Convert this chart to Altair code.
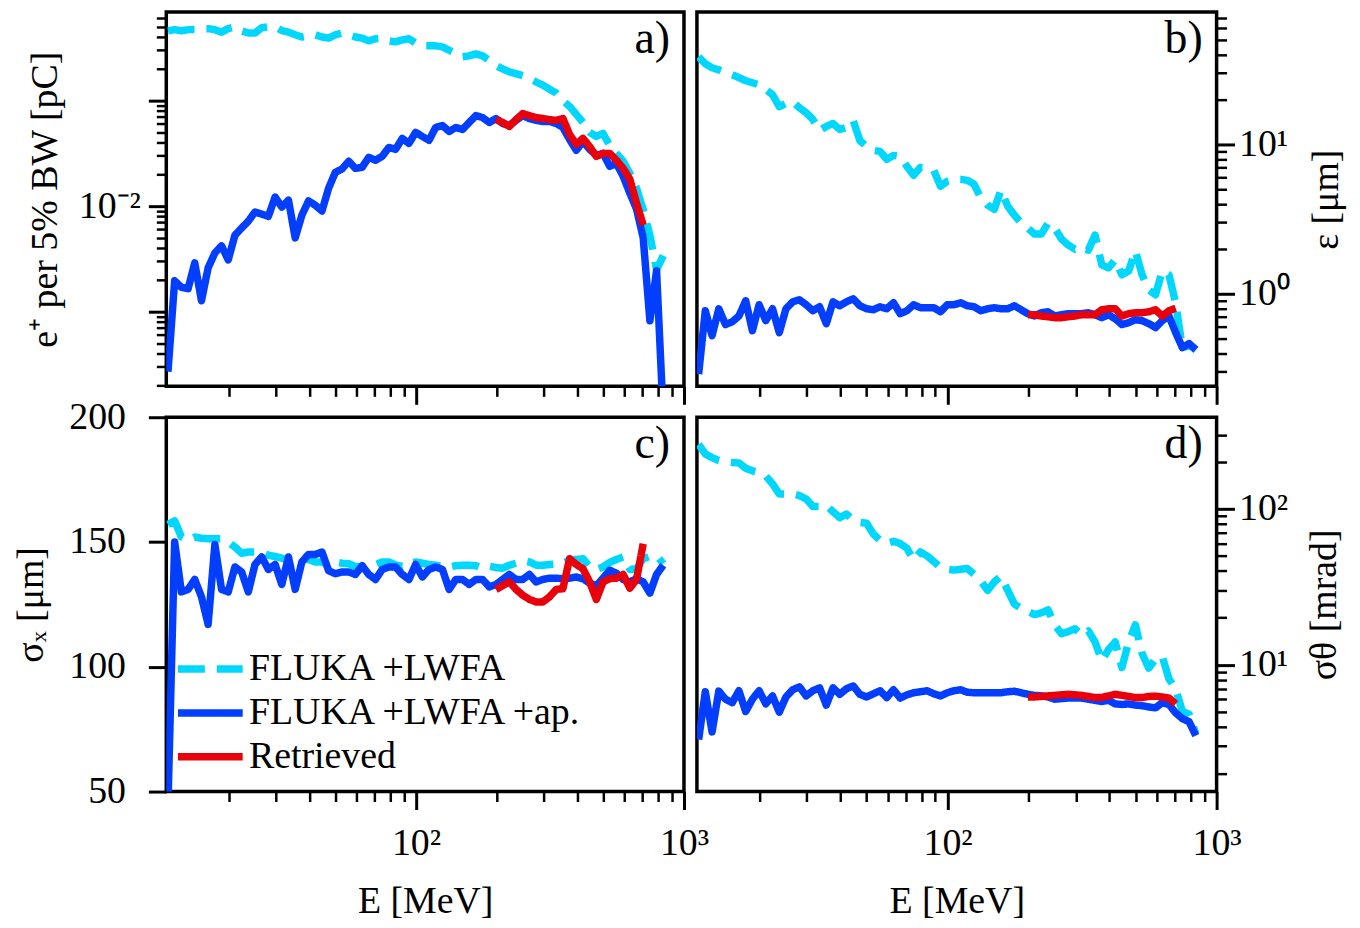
import altair as alt
import pandas as pd

# ---------------- data ----------------
E = [11.87, 12.57, 13.32, 14.11, 14.94, 15.83, 16.76, 17.76, 18.81, 19.92,
     21.10, 22.35, 23.67, 25.07, 26.56, 28.13, 29.80, 31.56, 33.43, 35.41,
     37.50, 39.72, 42.08, 44.57, 47.20, 50.00, 52.96, 56.09, 59.41, 62.93,
     66.65, 70.60, 74.78, 79.20, 83.89, 88.86, 94.12, 99.69, 105.6, 111.8,
     118.4, 125.5, 132.9, 140.8, 149.1, 157.9, 167.3, 177.2, 187.7, 198.8,
     210.5, 223.0, 236.2, 250.2, 265.0, 280.7, 297.3, 314.9, 333.5, 353.3,
     374.2, 396.3, 419.8, 444.6, 470.9, 498.8, 528.4, 559.6, 592.8, 627.9,
     665.0, 704.4, 746.1, 790.2, 837.0]
E_RET = E[49:72]

A_CYAN = [0.457, 0.47, 0.457, 0.47, 0.47, 0.48, 0.48, 0.47, 0.445, 0.48,
          0.50, 0.457, 0.437, 0.437, 0.49, 0.50, 0.50, 0.46, 0.445, 0.42,
          0.40, 0.41, 0.42, 0.40, 0.39, 0.42, 0.437, 0.42, 0.40, 0.39,
          0.368, 0.385, 0.39, 0.368, 0.36, 0.376, 0.385, 0.35, 0.33, 0.33,
          0.33, 0.323, 0.30, 0.28, 0.26, 0.265, 0.277, 0.265, 0.24, 0.215,
          0.20, 0.187, 0.18, 0.172, 0.161, 0.15, 0.14, 0.128, 0.118, 0.10,
          0.088, 0.074, 0.062, 0.050, 0.0457, 0.0488, 0.0376, 0.0316, 0.0266, 0.0205,
          0.0148, 0.0092, 0.0053, 0.0025, 0.0034]
A_BLUE = [2.7e-4, 1.96e-3, 1.7e-3, 1.65e-3, 2.9e-3, 1.27e-3, 2.6e-3, 3.6e-3, 4.2e-3, 3.1e-3,
          5.3e-3, 6.2e-3, 7.2e-3, 8.8e-3, 8.4e-3, 8.0e-3, 1.22e-2, 9.8e-3, 1.14e-2, 5.0e-3,
          8.2e-3, 1.12e-2, 1.02e-2, 9.0e-3, 1.48e-2, 2.09e-2, 2.25e-2, 2.66e-2, 2.28e-2, 2.33e-2,
          2.9e-2, 2.72e-2, 2.96e-2, 3.6e-2, 3.45e-2, 4.38e-2, 3.93e-2, 5.0e-2, 4.57e-2, 4.2e-2,
          5.56e-2, 5.8e-2, 5.1e-2, 5.56e-2, 5.32e-2, 6.2e-2, 7.2e-2, 6.9e-2, 6.2e-2, 6.76e-2,
          6.07e-2, 5.8e-2, 6.5e-2, 7.2e-2, 6.76e-2, 6.5e-2, 6.33e-2, 6.33e-2, 6.07e-2, 5.56e-2,
          4.28e-2, 3.38e-2, 4.1e-2, 3.45e-2, 3.03e-2, 3.16e-2, 2.38e-2, 2.54e-2, 1.92e-2, 1.33e-2,
          9.4e-3, 5.0e-3, 8.2e-4, 2.44e-3, 1.0e-4]
A_RED = [0.0662, 0.062, 0.0569, 0.066, 0.0753, 0.072, 0.069, 0.0676, 0.066, 0.065,
         0.0676, 0.0477, 0.0385, 0.0438, 0.0366, 0.0296, 0.0316, 0.0316, 0.0272, 0.0228,
         0.018, 0.0107, 0.0066]

B_CYAN = [38.6, 34.7, 32.6, 31.6, 30.6, 29.3, 28.0, 26.7, 25.9, 25.1,
          23.3, 21.5, 17.9, 18.8, 19.4, 17.6, 16.3, 14.7, 12.4, 13.2,
          13.8, 12.6, 13.0, 14.5, 10.6, 9.7, 9.12, 8.98, 7.94, 8.45,
          8.3, 7.13, 6.22, 7.02, 6.92, 6.71, 5.25, 5.67, 5.84, 5.84,
          5.75, 5.41, 4.37, 3.92, 3.68, 4.94, 3.86, 3.36, 2.97, 2.75,
          2.51, 2.51, 2.97, 2.75, 2.33, 2.12, 1.99, 2.06, 1.96, 2.47,
          1.56, 1.49, 1.69, 1.34, 1.42, 1.94, 1.34, 1.06, 0.985, 1.42,
          1.34, 0.871, 0.43, 0.457, 0.42]
B_BLUE = [0.29, 0.77, 0.525, 0.794, 0.622, 0.65, 0.71, 0.898, 0.566, 0.845,
          0.661, 0.794, 0.55, 0.794, 0.884, 0.912, 0.845, 0.77, 0.819, 0.631,
          0.884, 0.832, 0.884, 0.926, 0.832, 0.794, 0.782, 0.819, 0.794, 0.871,
          0.736, 0.77, 0.845, 0.807, 0.807, 0.807, 0.758, 0.845, 0.845, 0.871,
          0.832, 0.819, 0.77, 0.794, 0.807, 0.794, 0.794, 0.832, 0.782, 0.736,
          0.71, 0.747, 0.758, 0.71, 0.724, 0.736, 0.736, 0.736, 0.747, 0.724,
          0.692, 0.724, 0.681, 0.622, 0.641, 0.671, 0.661, 0.631, 0.594, 0.661,
          0.71, 0.55, 0.436, 0.464, 0.423]
B_RED = [0.724, 0.724, 0.71, 0.702, 0.692, 0.692, 0.702, 0.71, 0.724, 0.724,
         0.724, 0.782, 0.794, 0.794, 0.71, 0.736, 0.747, 0.747, 0.758, 0.782,
         0.71, 0.77, 0.8]

C_CYAN = [157, 158.5, 152, 150.7, 152, 151.5, 151.3, 151.3, 151.3, 150,
          148, 145.5, 146, 146, 146, 144.7, 144.2, 143.5, 142.7, 143.3,
          144.5, 143, 142, 142, 141, 142, 141.5, 141.3, 140.2, 140,
          140, 140.9, 142, 142, 140.8, 140.2, 141, 142, 141.5, 141,
          140.7, 140.3, 140, 140.5, 140.7, 140.7, 140.5, 139.5, 140.3, 139.8,
          139.5, 140.7, 141.5, 142.5, 142, 140.7, 140.7, 141, 141.2, 141.5,
          142.7, 143, 143.3, 140, 139, 140, 141.8, 143, 144, 139,
          139.3, 143.3, 144.3, 144.5, 141.3]
C_BLUE = [45, 150, 130, 131, 135, 128, 117, 149, 131, 130,
          140, 138, 130, 141, 144, 139, 141, 133, 144, 131,
          142, 145, 145, 146, 138.5, 137.3, 138, 138, 137, 140.5,
          137, 135, 139, 140, 140, 137, 135, 141, 136, 139,
          140, 139, 131, 135, 135, 133, 135, 135, 132, 133,
          135, 137, 135, 135, 137, 134, 135, 135.5, 135.5, 135.3,
          135.5, 136, 135.3, 133.5, 132.5, 135.5, 138.7, 137.5, 135, 134,
          135.3, 134, 129.5, 137, 140.7]
C_RED = [131, 132.5, 134, 131, 128.7, 127, 126, 126, 128, 131,
         131.3, 143.3, 141, 139.3, 134, 127, 134, 135.3, 135.5, 137,
         131.5, 135, 149.3]

D_CYAN = [260, 226, 214, 205, 201, 199, 198, 183, 176, 172,
          163, 145, 125, 125, 125, 122, 116, 104, 104, 106,
          96, 88, 93, 85, 82, 81, 69, 63, 60, 62,
          60, 56, 47, 53, 50, 46, 42, 41, 40.5, 41,
          41.5, 38, 34.5, 30, 34, 37, 30, 24.5, 23, 22,
          21, 21.5, 22.5, 18, 15.8, 16.3, 17, 15.5, 16.5, 14,
          10.6, 12.5, 14, 9.6, 14, 18, 11.8, 9.5, 10.9, 11.3,
          8.1, 7.0, 5.0, 4.8, 3.6]
D_BLUE = [3.3, 6.7, 3.7, 6.76, 6.0, 5.7, 6.8, 5.0, 6.0, 6.8,
          5.6, 6.3, 4.95, 6.2, 6.9, 7.2, 6.3, 6.8, 7.1, 5.5,
          7.1, 6.45, 7.0, 7.3, 6.45, 6.2, 6.5, 6.8, 6.15, 6.9,
          6.1, 6.4, 6.6, 6.7, 6.8, 6.5, 6.3, 6.6, 6.8, 6.9,
          6.65, 6.6, 6.6, 6.6, 6.6, 6.6, 6.7, 6.75, 6.6, 6.45,
          6.35, 6.3, 6.2, 6.0, 6.05, 6.1, 6.1, 6.1, 6.0, 5.9,
          5.8, 5.9, 5.6, 5.55, 5.6, 5.5, 5.45, 5.35, 5.28, 5.7,
          5.55, 4.9, 4.5, 4.3, 3.5]
D_RED = [6.2, 6.2, 6.25, 6.3, 6.35, 6.4, 6.45, 6.4, 6.35, 6.25,
         6.15, 6.15, 6.3, 6.45, 6.35, 6.25, 6.15, 6.15, 6.25, 6.28,
         6.2, 6.1, 5.6]

SERIES = ["FLUKA +LWFA", "FLUKA +LWFA +ap.", "Retrieved"]
COLORS = ["#00d7ff", "#023eff", "#e8000b"]
DASHES = [[27, 12], [1, 0], [1, 0]]

# ---------------- style ----------------
FONT = "Liberation Serif"
FS = 38
LW = 7.5
WL, WR, H = 520, 522, 376
XSCALE = alt.Scale(type="log", domain=[11.7, 1000], nice=False)


def minor_ticks(lo, hi, exps):
    out = []
    for e in exps:
        for m in range(2, 10):
            v = round(m * 10.0 ** e, 10)
            if lo <= v <= hi:
                out.append(v)
    return out


X_MINOR = minor_ticks(11.7, 1000, [1, 2])


def x_axes(labels):
    if labels:
        major = alt.Axis(orient="bottom", values=[100, 1000], tickSize=18, tickWidth=3,
                         grid=False, domain=False, labels=True, labelFlush=False,
                         labelExpr="datum.value < 300 ? '10\u00b2' : '10\u00b3'",
                         labelPadding=15, title="E [MeV]", titlePadding=20)
    else:
        major = alt.Axis(orient="bottom", values=[100, 1000], tickSize=18, tickWidth=3,
                         grid=False, domain=False, labels=False, title=None)
    minor = alt.Axis(orient="bottom", values=X_MINOR, tickSize=10, tickWidth=2.5,
                     grid=False, domain=False, labels=False, title=None)
    return major, minor


# wide, flat line symbol (65 px long) so entries can sit 45 px apart
LEGEND = alt.Legend(title=None, orient="none", legendX=8, legendY=233, labelFontSize=FS,
                    labelFont=FONT, labelColor="black", symbolSize=1056,
                    symbolStrokeWidth=LW, symbolType="M-1,0H3", labelLimit=600,
                    rowPadding=5, labelOffset=35, padding=0)


def panel(width, cyan, blue, red, yscale, ymajor, yminor, xlabels, tag, legend=False):
    xmaj, xmin = x_axes(xlabels)
    frames = [pd.DataFrame({"E": E, "v": cyan, "s": SERIES[0]}),
              pd.DataFrame({"E": E, "v": blue, "s": SERIES[1]}),
              pd.DataFrame({"E": E_RET, "v": red, "s": SERIES[2]})]
    layers = []
    for i, df in enumerate(frames):
        enc = dict(
            x=alt.X("E:Q", scale=XSCALE, axis=xmaj if i == 0 else None),
            y=alt.Y("v:Q", scale=yscale, axis=ymajor if i == 0 else None),
        )
        if legend:
            enc["color"] = alt.Color("s:N", scale=alt.Scale(domain=SERIES, range=COLORS), legend=LEGEND)
            enc["strokeDash"] = alt.StrokeDash("s:N", scale=alt.Scale(domain=SERIES, range=DASHES), legend=LEGEND)
        else:
            enc["color"] = alt.value(COLORS[i])
            enc["strokeDash"] = alt.value(DASHES[i])
        layers.append(alt.Chart(df).mark_line(clip=True, strokeWidth=LW, strokeCap="butt",
                                              strokeJoin="round").encode(**enc))
    # invisible layer carrying the minor ticks
    layers.append(alt.Chart(frames[1]).mark_line(opacity=0).encode(
        x=alt.X("E:Q", scale=XSCALE, axis=xmin),
        y=alt.Y("v:Q", scale=yscale, axis=yminor),
    ))
    layers.append(alt.Chart(pd.DataFrame({"t": [tag]})).mark_text(
        align="right", baseline="top", fontSize=46, font=FONT, color="black"
    ).encode(text="t:N", x=alt.value(width - 14), y=alt.value(5)))
    return alt.layer(*layers).resolve_axis(x="independent", y="independent").properties(
        width=width, height=H)


def ymaj(orient, values, expr, title, lpad, tpad, right=False):
    kw = dict(orient=orient, values=values, tickSize=18, tickWidth=3, grid=False,
              domain=False, labelPadding=lpad, title=title, titlePadding=tpad)
    if expr:
        kw["labelExpr"] = expr
    if right:
        kw["titleAngle"] = 270
        kw["titleBaseline"] = "top"
    return alt.Axis(**kw)


def ymin(orient, values):
    return alt.Axis(orient=orient, values=values, tickSize=10, tickWidth=2.5, grid=False,
                    domain=False, labels=False, title=None)


pa = panel(WL, A_CYAN, A_BLUE, A_RED,
           alt.Scale(type="log", domain=[1.96e-4, 0.69], nice=False),
           ymaj("left", [1e-3, 1e-2, 1e-1],
                "datum.value > 0.005 && datum.value < 0.02 ? '10\u207b\u00b2' : ''",
                "e\u207a per 5% BW [pC]", 8, 14),
           ymin("left", minor_ticks(1.96e-4, 0.69, [-4, -3, -2, -1])),
           False, "a)")

pb = panel(WR, B_CYAN, B_BLUE, B_RED,
           alt.Scale(type="log", domain=[0.24, 77], nice=False),
           ymaj("right", [1, 10], "datum.value < 5 ? '10\u2070' : '10\u00b9'",
                "\u03b5 [\u03bcm]", 4, 18, right=True),
           ymin("right", minor_ticks(0.24, 77, [-1, 0, 1])),
           False, "b)")

pc = panel(WL, C_CYAN, C_BLUE, C_RED,
           alt.Scale(type="linear", domain=[50, 200], nice=False, zero=False),
           ymaj("left", [50, 100, 150, 200], None, "\u03c3\u2093 [\u03bcm]", 23, 18),
           None, True, "c)", legend=True)

pd_ = panel(WR, D_CYAN, D_BLUE, D_RED,
            alt.Scale(type="log", domain=[1.53, 389], nice=False),
            ymaj("right", [10, 100], "datum.value < 50 ? '10\u00b9' : '10\u00b2'",
                 "\u03c3\u03b8 [mrad]", 4, 18, right=True),
            ymin("right", minor_ticks(1.53, 389, [0, 1, 2])),
            True, "d)")

chart = alt.concat(pa, pb, pc, pd_, columns=2, spacing={"row": 31, "column": 13},
                   bounds="flush").resolve_scale(
    x="independent", y="independent", color="independent", strokeDash="independent"
).properties(
    padding={"top": 0, "left": 3, "right": 5, "bottom": 5}
).configure_view(
    stroke="black", strokeWidth=3.5
).configure_axis(
    labelFont=FONT, titleFont=FONT, labelFontSize=FS, titleFontSize=FS,
    labelColor="black", titleColor="black", tickColor="black", titleFontWeight="normal"
)

chart.save("out.html", embed_options={"renderer": "svg", "actions": False})
